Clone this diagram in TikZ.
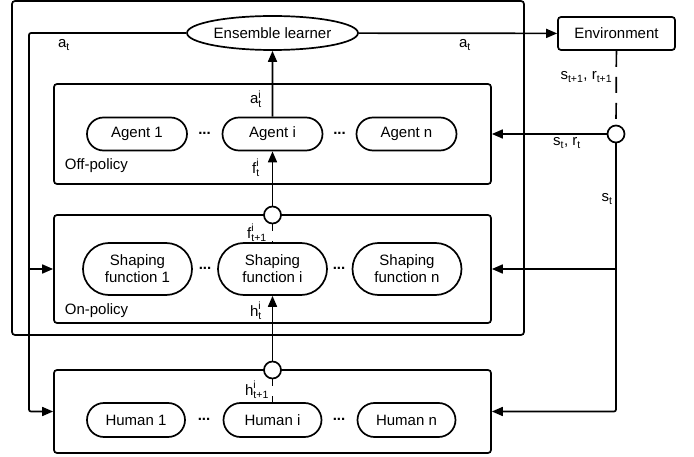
\documentclass[tikz,border=0pt]{standalone}
\usepackage{amsmath}
\usepackage{fontspec}
\setmainfont{Liberation Sans}
\usetikzlibrary{shapes.geometric,shapes.misc,arrows.meta}

\newcommand{\var}[2]{$\text{#1}_{\text{#2}}$}
\newcommand{\vari}[2]{$\text{#1}^{\text{i}}_{\text{#2}}$}

\begin{document}
\begin{tikzpicture}[x=1pt, y=-1pt, line width=1.7pt,
    every node/.style = {font=\fontsize{15}{17}\selectfont, inner sep=1pt},
    box/.style = {draw, rectangle, rounded corners=3pt},
    pill/.style = {draw, rounded rectangle, align=center, inner sep=0pt},
    junction/.style = {draw, circle, fill=white, minimum size=17pt, inner sep=0pt},
    arr/.style = {-{Triangle[length=11pt,width=9pt]}},
    dashline/.style = {dash pattern=on 16pt off 10pt}]
  \tikzstyle{agentbox}=[pill, minimum width=100pt, minimum height=33pt]
  \tikzstyle{shapebox}=[pill, minimum width=109pt, minimum height=52pt]
  \tikzstyle{humanbox}=[pill, minimum width=98pt, minimum height=34pt]
  \useasboundingbox (0,0) rectangle (694,457);

  % containers
  \node[box, minimum width=512pt, minimum height=334pt] (outer) at (268,168) {};
  \node[box, minimum width=437pt, minimum height=100pt] (offbox) at (272.5,134) {};
  \node[box, minimum width=437pt, minimum height=108pt] (onbox) at (272.5,269) {};
  \node[box, minimum width=437pt, minimum height=83pt] (humbox) at (272.5,411.5) {};

  \node[draw, ellipse, fill=white, minimum width=171pt, minimum height=34pt, inner sep=0pt]
    (ens) at (272.5,33) {Ensemble learner};
  \node[box, minimum width=117pt, minimum height=33pt] (env) at (616.5,33.5) {Environment};

  % agents, shaping functions, humans
  \node[agentbox] (agent1) at (137,134) {Agent 1};
  \node[agentbox] (agenti) at (272.5,134) {Agent i};
  \node[agentbox] (agentn) at (406.5,134) {Agent n};
  \node[shapebox] (shape1) at (137.5,269) {Shaping\\function 1};
  \node[shapebox] (shapei) at (272.5,269) {Shaping\\function i};
  \node[shapebox] (shapen) at (407,269) {Shaping\\function n};
  \node[humanbox] (human1) at (136,420) {Human 1};
  \node[humanbox] (humani) at (272.5,420) {Human i};
  \node[humanbox] (humann) at (406.5,420) {Human n};

  \node (d1) at (204.5,133) {\textbf{...}};
  \node (d2) at (339.5,133) {\textbf{...}};
  \node (d3) at (205,268) {\textbf{...}};
  \node (d4) at (339,268) {\textbf{...}};
  \node (d5) at (204,419) {\textbf{...}};
  \node (d6) at (339,419) {\textbf{...}};

  \node[anchor=west] (offlbl) at (63,166) {Off-policy};
  \node[anchor=west] (onlbl) at (63,311) {On-policy};

  % junctions
  \coordinate (j1pos) at (272.5,215);
  \coordinate (j2pos) at (272.5,370);
  \coordinate (j3pos) at (616,134);
  \coordinate (lft) at (29,33);

  % connectors
  \draw[arr] (agenti) -- (ens);
  \draw[arr] (j1pos) -- (agenti);
  \draw[dashline] (j1pos) -- (shapei);
  \draw[arr] (j2pos) -- (shapei);
  \draw[dashline] (j2pos) -- (humani);
  \draw[arr] (ens) -- (env);
  \draw[dashline] (env) -- (j3pos);
  \draw[arr] (j3pos) -- (offbox.east);
  \draw[arr, rounded corners=2pt] (j3pos) |- (humbox.east);
  \draw[arr] (j3pos |- onbox.east) -- (onbox.east);
  \draw[arr, rounded corners=2pt] (ens.west) -| (lft |- humbox.west) -- (humbox.west);
  \draw[arr] (lft |- onbox.west) -- (onbox.west);

  \node[junction] (j1) at (j1pos) {};
  \node[junction] (j2) at (j2pos) {};
  \node[junction] (j3) at (j3pos) {};

  % signal labels
  \node (at1) at (64,45) {\var{a}{t}};
  \node (at2) at (465,45) {\var{a}{t}};
  \node (ati) at (256,99) {\vari{a}{t}};
  \node (fti) at (256,168) {\vari{f}{t}};
  \node (fti1) at (257,233) {\vari{f}{t+1}};
  \node (hti) at (256,311) {\vari{h}{t}};
  \node (hti1) at (257,390) {\vari{h}{t+1}};
  \node[anchor=east] (srnext) at (614,77) {\var{s}{t+1}, \var{r}{t+1}};
  \node (sr) at (567,143) {\var{s}{t}, \var{r}{t}};
  \node (st) at (607,199) {\var{s}{t}};
\end{tikzpicture}
\end{document}
